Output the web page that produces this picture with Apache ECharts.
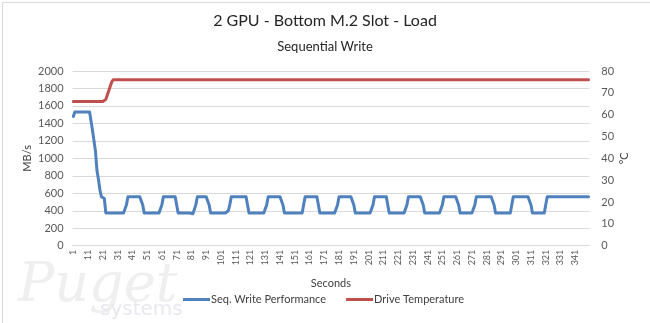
<!DOCTYPE html>
<html>
<head>
<meta charset="utf-8">
<script src="https://cdn.jsdelivr.net/npm/echarts@6/dist/echarts.min.js"></script>
<style>
html,body{margin:0;padding:0;background:#fff;}
#c{width:650px;height:323px;}
</style>
</head>
<body>
<div id="c"></div>
<script>
// ---- data ----
var titleText = '2 GPU - Bottom M.2 Slot - Load';
var subtitleText = 'Sequential Write';
var xName = 'Seconds';
var yLeftName = 'MB/s';
var yRightName = '°C';
var seriesNames = ['Seq. Write Performance', 'Drive Temperature'];

// Seq. write performance (MB/s), one value per second (350 seconds)
var writePerf = [
1480,1530,1530,1530,1530,1530,1530,1530,1530,1530,
1530,1530,1530,1320,1200,1080,860,760,640,560,
550,540,375,375,375,375,375,375,375,375,
375,375,375,375,375,375,470,560,560,560,
560,560,560,560,560,560,560,465,375,375,
375,375,375,375,375,375,375,375,375,375,
470,560,560,560,560,560,560,560,560,560,
465,375,375,375,375,375,375,375,375,375,
375,365,375,470,560,560,560,560,560,560,
560,560,465,375,375,375,375,375,375,375,
375,375,375,375,390,400,470,560,560,560,
560,560,560,560,560,560,560,560,465,375,
375,375,362,375,375,375,375,375,375,375,
375,470,560,560,560,560,560,560,560,560,
560,560,465,375,375,375,375,375,375,375,
375,375,375,375,375,375,470,560,560,560,
560,560,560,560,560,560,465,375,375,375,
375,375,375,375,375,375,375,375,375,470,
560,560,560,560,560,560,560,560,560,560,
465,375,375,375,375,375,375,375,375,375,
375,375,375,470,560,560,560,560,560,560,
560,560,560,465,375,375,375,375,375,375,
375,375,375,375,375,375,470,560,560,560,
560,560,560,560,560,560,560,465,375,375,
375,375,375,375,375,375,375,375,375,375,
470,560,560,560,560,560,560,560,560,560,
560,465,375,375,375,375,375,375,375,375,
375,375,470,560,560,560,560,560,560,560,
560,560,560,560,560,465,375,375,375,375,
375,375,375,375,375,375,375,470,560,560,
560,560,560,560,560,560,560,560,560,560,
465,375,375,375,375,375,375,375,375,375,
470,560,560,560,560,560,560,560,560,560,
560,560,560,560,560,560,560,560,560,560,
560,560,560,560,560,560,560,560,560,560
];

// Drive temperature (°C), one value per second
var driveTemp = [
66,66,66,66,66,66,66,66,66,66,
66,66,66,66,66,66,66,66,66,66,
66,66,67,69,71,73,75,76,76,76,
76,76,76,76,76,76,76,76,76,76,
76,76,76,76,76,76,76,76,76,76,
76,76,76,76,76,76,76,76,76,76,
76,76,76,76,76,76,76,76,76,76,
76,76,76,76,76,76,76,76,76,76,
76,76,76,76,76,76,76,76,76,76,
76,76,76,76,76,76,76,76,76,76,
76,76,76,76,76,76,76,76,76,76,
76,76,76,76,76,76,76,76,76,76,
76,76,76,76,76,76,76,76,76,76,
76,76,76,76,76,76,76,76,76,76,
76,76,76,76,76,76,76,76,76,76,
76,76,76,76,76,76,76,76,76,76,
76,76,76,76,76,76,76,76,76,76,
76,76,76,76,76,76,76,76,76,76,
76,76,76,76,76,76,76,76,76,76,
76,76,76,76,76,76,76,76,76,76,
76,76,76,76,76,76,76,76,76,76,
76,76,76,76,76,76,76,76,76,76,
76,76,76,76,76,76,76,76,76,76,
76,76,76,76,76,76,76,76,76,76,
76,76,76,76,76,76,76,76,76,76,
76,76,76,76,76,76,76,76,76,76,
76,76,76,76,76,76,76,76,76,76,
76,76,76,76,76,76,76,76,76,76,
76,76,76,76,76,76,76,76,76,76,
76,76,76,76,76,76,76,76,76,76,
76,76,76,76,76,76,76,76,76,76,
76,76,76,76,76,76,76,76,76,76,
76,76,76,76,76,76,76,76,76,76,
76,76,76,76,76,76,76,76,76,76,
76,76,76,76,76,76,76,76,76,76
];

// category labels: seconds 1..350
var seconds = [];
for (var i = 0; i < writePerf.length; i++) seconds.push(String(i + 1));

var leftAxis = {min: 0, max: 2000, interval: 200};
var rightAxis = {min: 0, max: 80, interval: 10};

// ---- chart ----
var FONT = 'Lato';
var chart = echarts.init(document.getElementById('c'), null, {renderer: 'canvas'});
chart.setOption({
  animation: false,
  backgroundColor: '#ffffff',
  textStyle: {fontFamily: FONT},
  title: [
    {text: titleText, left: 'center', top: 13, padding: 0,
     textStyle: {fontFamily: FONT, fontSize: 16, fontWeight: 'normal', color: '#262626'}},
    {text: subtitleText, left: 'center', top: 40, padding: 0,
     textStyle: {fontFamily: FONT, fontSize: 13, fontWeight: 'normal', color: '#262626'}}
  ],
  legend: {
    left: 183, top: 294, padding: 0,
    itemWidth: 27, itemHeight: 3, itemGap: 20,
    icon: 'rect',
    textStyle: {fontFamily: FONT, fontSize: 11, color: '#404040', padding: [0, 0, 0, -4]},
    data: seriesNames
  },
  grid: {left: 72.6, right: 60.7, top: 71, bottom: 77.3, containLabel: false},
  xAxis: {
    type: 'category',
    data: seconds,
    boundaryGap: true,
    name: xName,
    nameLocation: 'middle',
    nameGap: 32,
    nameMoveOverlap: false,
    nameTextStyle: {fontFamily: FONT, fontSize: 11, color: '#404040'},
    axisLine: {show: true, lineStyle: {color: '#d9d9d9', width: 1}},
    axisTick: {show: false},
    axisLabel: {interval: 9, rotate: 90, fontSize: 9, color: '#595959', margin: 4, fontFamily: FONT},
    splitLine: {show: false}
  },
  yAxis: [
    {
      type: 'value', min: leftAxis.min, max: leftAxis.max, interval: leftAxis.interval,
      name: yLeftName, nameLocation: 'middle', nameRotate: 90, nameGap: 40,
      nameMoveOverlap: false,
      nameTextStyle: {fontFamily: FONT, fontSize: 11, color: '#404040'},
      axisLine: {show: false}, axisTick: {show: false},
      axisLabel: {fontSize: 11, color: '#595959', margin: 9, fontFamily: FONT,
                  formatter: function (v) { return String(v); }},
      splitLine: {show: true, lineStyle: {color: '#d9d9d9', width: 1}}
    },
    {
      type: 'value', min: rightAxis.min, max: rightAxis.max, interval: rightAxis.interval,
      position: 'right',
      name: yRightName, nameLocation: 'middle', nameRotate: 90, nameGap: 30,
      nameMoveOverlap: false,
      nameTextStyle: {fontFamily: FONT, fontSize: 11, color: '#404040'},
      axisLine: {show: false}, axisTick: {show: false},
      axisLabel: {fontSize: 11, color: '#595959', margin: 12, fontFamily: FONT,
                  formatter: function (v) { return String(v); }},
      splitLine: {show: false}
    }
  ],
  series: [
    {
      name: seriesNames[0], type: 'line', yAxisIndex: 0, data: writePerf,
      showSymbol: false, symbol: 'none',
      color: '#4F81BD',
      lineStyle: {color: '#4F81BD', width: 3, cap: 'round', join: 'round'},
      z: 3
    },
    {
      name: seriesNames[1], type: 'line', yAxisIndex: 1, data: driveTemp,
      showSymbol: false, symbol: 'none',
      color: '#C0504D',
      lineStyle: {color: '#C0504D', width: 3, cap: 'round', join: 'round'},
      z: 2
    }
  ],
  graphic: [
    {type: 'rect', left: 0, top: 0, z: -10, silent: true,
     shape: {x: 0.5, y: 0.5, width: 649, height: 322},
     style: {fill: 'none', stroke: '#d9d9d9', lineWidth: 1}},
    {type: 'text', left: 18, top: 260, z: -5, silent: true,
     style: {text: 'Puget', font: 'italic 54px "DejaVu Serif"', fill: '#efefef'}},
    {type: 'text', left: 100, top: 300, z: -5, silent: true,
     style: {text: 'systems', font: '20px "DejaVu Sans"', fill: '#e8e8f0'}}
  ]
});
</script>
</body>
</html>
